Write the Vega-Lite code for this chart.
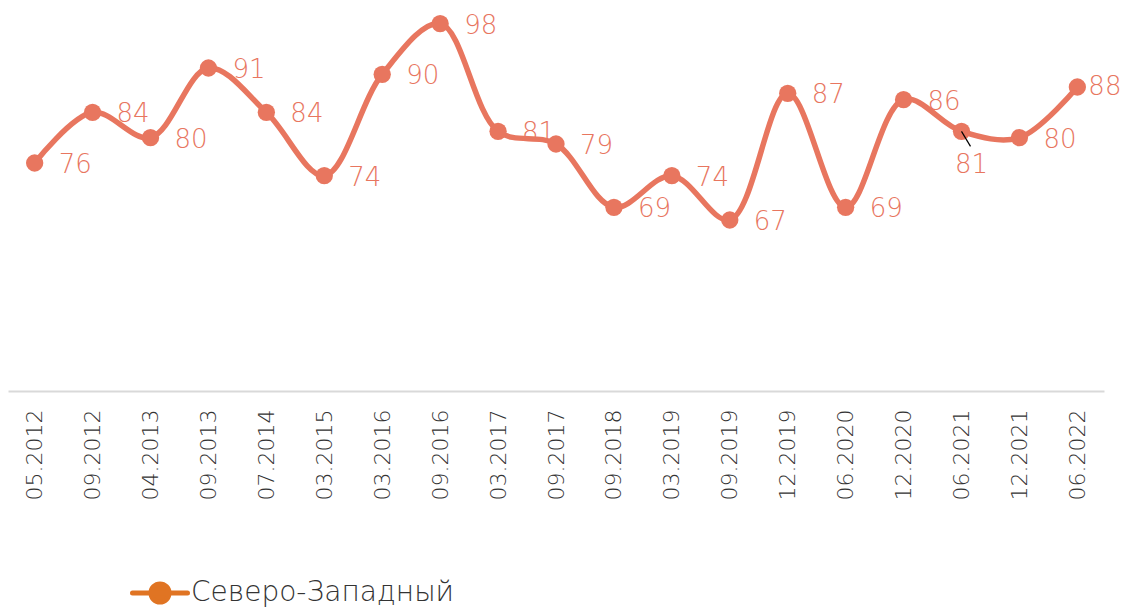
{
  "$schema": "https://vega.github.io/schema/vega-lite/v6.json",
  "width": 1096,
  "height": 380,
  "autosize": {"type": "none"},
  "padding": {"left": 8, "top": 11, "right": 34, "bottom": 216},
  "background": "white",
  "config": {"view": {"stroke": null}, "font": "DejaVu Sans"},
  "data": {
    "values": [
      {"period": "05.2012", "value": 76, "region": "Северо-Западный"},
      {"period": "09.2012", "value": 84, "region": "Северо-Западный"},
      {"period": "04.2013", "value": 80, "region": "Северо-Западный"},
      {"period": "09.2013", "value": 91, "region": "Северо-Западный"},
      {"period": "07.2014", "value": 84, "region": "Северо-Западный"},
      {"period": "03.2015", "value": 74, "region": "Северо-Западный"},
      {"period": "03.2016", "value": 90, "region": "Северо-Западный"},
      {"period": "09.2016", "value": 98, "region": "Северо-Западный"},
      {"period": "03.2017", "value": 81, "region": "Северо-Западный"},
      {"period": "09.2017", "value": 79, "region": "Северо-Западный"},
      {"period": "09.2018", "value": 69, "region": "Северо-Западный"},
      {"period": "03.2019", "value": 74, "region": "Северо-Западный"},
      {"period": "09.2019", "value": 67, "region": "Северо-Западный"},
      {"period": "12.2019", "value": 87, "region": "Северо-Западный"},
      {"period": "06.2020", "value": 69, "region": "Северо-Западный"},
      {"period": "12.2020", "value": 86, "region": "Северо-Западный"},
      {"period": "06.2021", "value": 81, "region": "Северо-Западный"},
      {"period": "12.2021", "value": 80, "region": "Северо-Западный"},
      {"period": "06.2022", "value": 88, "region": "Северо-Западный"}
    ]
  },
  "encoding": {
    "x": {
      "field": "period",
      "type": "ordinal",
      "sort": null,
      "scale": {"type": "point", "padding": 0.46},
      "axis": {
        "title": null,
        "labelAngle": -90,
        "labelFontSize": 22,
        "labelFontWeight": 200,
        "labelColor": "#333333",
        "labelPadding": 18,
        "ticks": false,
        "grid": false,
        "domainColor": "#d9d9d9",
        "domainWidth": 2
      }
    },
    "y": {
      "field": "value",
      "type": "quantitative",
      "scale": {"domain": [40, 100]},
      "axis": null
    }
  },
  "layer": [
    {
      "mark": {"type": "line", "interpolate": "catmull-rom", "strokeWidth": 5, "opacity": 0},
      "encoding": {
        "color": {
          "field": "region",
          "type": "nominal",
          "scale": {"range": ["#E07423"]},
          "legend": {
            "orient": "none",
            "legendX": 122,
            "legendY": 552,
            "title": null,
            "labelFontSize": 28,
            "labelFontWeight": 200,
            "labelColor": "#333333",
            "labelOffset": 1,
            "labelLimit": 500,
            "symbolOpacity": 1,
            "symbolType": "M-1,0L1,0M-0.33,0A0.33,0.33,0,1,0,0.33,0A0.33,0.33,0,1,0,-0.33,0",
            "symbolSize": 3025,
            "symbolStrokeWidth": 5,
            "encode": {
              "symbols": {
                "update": {
                  "fill": {"value": "#E07423"},
                  "strokeCap": {"value": "round"},
                  "opacity": {"value": 1},
                  "strokeOpacity": {"value": 1},
                  "fillOpacity": {"value": 1}
                }
              }
            }
          }
        }
      }
    },
    {
      "mark": {"type": "line", "interpolate": "catmull-rom", "strokeWidth": 5.5, "color": "#E8765F"}
    },
    {
      "mark": {"type": "point", "filled": true, "size": 300, "color": "#E8765F", "opacity": 1}
    },
    {
      "transform": [{"filter": "datum.period === '06.2021'"}],
      "mark": {"type": "rule", "color": "black", "strokeWidth": 1.2, "x2Offset": 9, "y2Offset": 15},
      "encoding": {"x2": {"field": "period"}, "y2": {"field": "value"}}
    },
    {
      "transform": [{"filter": "datum.period !== '06.2021' && datum.period !== '06.2022'"}],
      "mark": {"type": "text", "align": "left", "dx": 24, "dy": 2, "fontSize": 26, "fontWeight": 200, "color": "#E8765F"},
      "encoding": {"text": {"field": "value"}}
    },
    {
      "transform": [{"filter": "datum.period === '06.2021'"}],
      "mark": {"type": "text", "align": "center", "dx": 10, "dy": 34, "fontSize": 26, "fontWeight": 200, "color": "#E8765F"},
      "encoding": {"text": {"field": "value"}}
    },
    {
      "transform": [{"filter": "datum.period === '06.2022'"}],
      "mark": {"type": "text", "align": "left", "dx": 11, "dy": 0, "fontSize": 26, "fontWeight": 200, "color": "#E8765F"},
      "encoding": {"text": {"field": "value"}}
    }
  ]
}
